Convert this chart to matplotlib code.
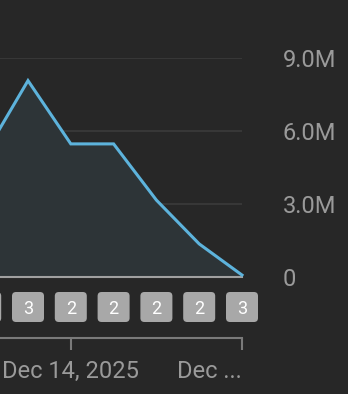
import numpy as np
import matplotlib
matplotlib.use("Agg")
import matplotlib.pyplot as plt
from matplotlib.patches import FancyBboxPatch
from matplotlib.transforms import IdentityTransform

plt.rcParams['font.family'] = ['Roboto', 'DejaVu Sans']

# data (one point per day)
days = ['Dec 12', 'Dec 13', 'Dec 14', 'Dec 15', 'Dec 16', 'Dec 17', 'Dec 18']
values = [5.08e6, 8.07e6, 5.47e6, 5.47e6, 3.16e6, 1.36e6, 0.08e6]
counts = [3, 3, 2, 2, 2, 2, 3]
y_ticks = [0, 3e6, 6e6, 9e6]
y_labels = ['0', '3.0M', '6.0M', '9.0M']
x_tick_idx = [2, 6]
x_tick_labels = ['Dec 14, 2025', 'Dec ...']

BG = '#272727'
LINE = '#5db3dc'
FILL = '#2d3437'
GRID = '#3b3b3b'
TXT = '#9a9a9a'

W, H = 348, 394
fig = plt.figure(figsize=(W / 100, H / 100), dpi=100, facecolor=BG)

ax = fig.add_axes([0, 1 - 277 / H, 242 / W, (277 - 58) / H])
ax.set_facecolor(BG)
x = np.arange(len(values))
step = 42.8
ax.set_xlim(6 - 242 / step, 6)
ax.set_ylim(0, 9e6)

ax.fill_between(x, values, 0, color=FILL, lw=0, zorder=1)
ax.plot(x, values, color=LINE, lw=2.2, clip_on=False, zorder=3,
        solid_joinstyle='miter')

for yv in y_ticks[1:]:
    ax.axhline(yv, color=GRID, lw=1.2, zorder=0)
ax.axhline(0, color='#a0a0a0', lw=1.5, zorder=2, clip_on=False)

for s in ax.spines.values():
    s.set_visible(False)
ax.set_xticks([])
ax.yaxis.tick_right()
ax.set_yticks(y_ticks)
ax.set_yticklabels(y_labels)
ax.tick_params(axis='y', length=0, pad=29.5, labelsize=17, labelcolor=TXT)

# count badges under each point (the first one is scrolled off to the left)
fig.canvas.draw()
for i, c in enumerate(counts):
    px = ax.transData.transform((i, 0))[0]
    bw, bh = 32, 30
    cy = H - 307
    patch = FancyBboxPatch((px - bw / 2 + 4, cy - bh / 2 + 4), bw - 8, bh - 8,
                           boxstyle='round,pad=4', transform=IdentityTransform(),
                           facecolor='#a8a8a8', edgecolor='none')
    fig.patches.append(patch)
    if px >= 0:
        fig.text(px / W, cy / H, str(c), color='white', fontsize=13,
                 ha='center', va='center_baseline')

# bottom date axis
axb = fig.add_axes([0, 1 - 338 / H, 242 / W, 0.0001])
axb.set_facecolor('none')
axb.set_xlim(ax.get_xlim())
axb.set_yticks([])
for k in ['top', 'left', 'right']:
    axb.spines[k].set_visible(False)
axb.spines['bottom'].set_color('#7a7a7a')
axb.spines['bottom'].set_linewidth(1.5)
axb.set_xticks(x_tick_idx)
axb.set_xticklabels(x_tick_labels)
axb.tick_params(axis='x', length=8.6, width=1.5, color='#7a7a7a',
                labelsize=17, labelcolor=TXT, pad=7)
axb.get_xticklabels()[-1].set_ha('right')

fig.savefig('out.png', dpi=100, facecolor=BG)
